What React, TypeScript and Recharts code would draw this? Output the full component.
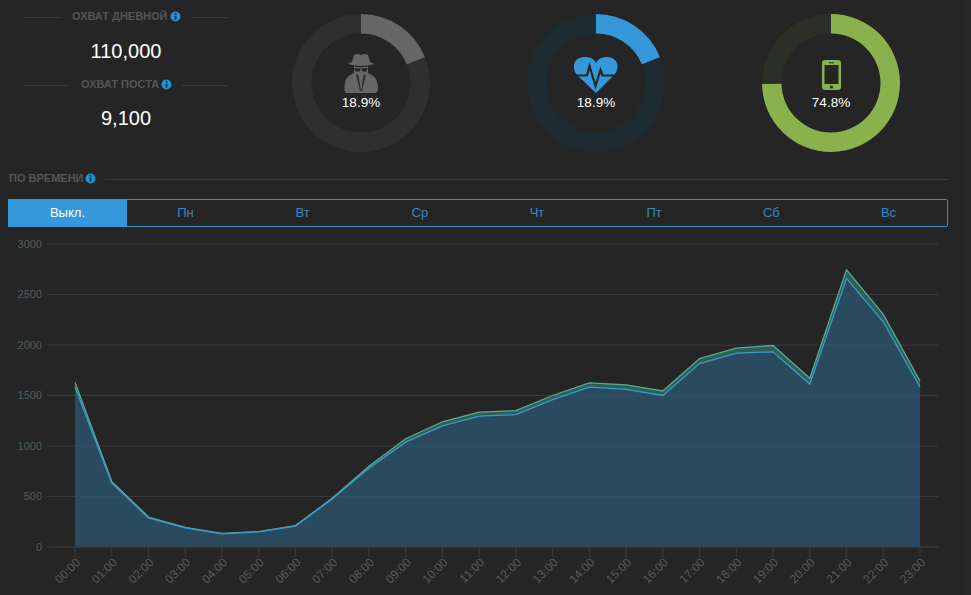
import { AreaChart, Area, XAxis, YAxis, CartesianGrid, PieChart, Pie, Cell } from 'recharts'

const hours = ['00:00', '01:00', '02:00', '03:00', '04:00', '05:00', '06:00', '07:00', '08:00', '09:00', '10:00', '11:00', '12:00', '13:00', '14:00', '15:00', '16:00', '17:00', '18:00', '19:00', '20:00', '21:00', '22:00', '23:00']
const upperValues = [1630, 650, 297, 195, 135, 153, 212, 482, 800, 1072, 1240, 1335, 1351, 1500, 1625, 1605, 1545, 1866, 1970, 1995, 1670, 2744, 2303, 1644]
const lowerValues = [1585, 632, 288, 190, 130, 149, 207, 475, 780, 1038, 1200, 1295, 1311, 1460, 1582, 1560, 1500, 1816, 1919, 1932, 1613, 2659, 2230, 1584]
const yTicks = [0, 500, 1000, 1500, 2000, 2500, 3000]
const tabs = ['Пн', 'Вт', 'Ср', 'Чт', 'Пт', 'Сб', 'Вс']
const donutShares = [18.9, 18.9, 74.8]
const donutLabels = ['18.9%', '18.9%', '74.8%']
const donutColors = [
  ['#666666', '#2f2f2f'],
  ['#3498db', '#1f2b32'],
  ['#89b24d', '#2c2f25'],
]

const BG = '#252525'
const LINE = '#3a3a3a'
const FONT = '"Liberation Sans", Arial, sans-serif'

const chartData = hours.map((hour, i) => ({ hour, upper: upperValues[i], lower: lowerValues[i] }))

function Info({ x, y }: { x: number; y: number }) {
  return (
    <svg width="11" height="11" viewBox="0 0 11 11" style={{ position: 'absolute', left: x - 5.5, top: y - 5.5 }}>
      <circle cx="5.5" cy="5.5" r="5" fill="#1c94d8" />
      <rect x="4.6" y="2" width="1.8" height="1.6" fill="#1d2a33" />
      <rect x="4.6" y="4.6" width="1.8" height="4" fill="#1d2a33" />
    </svg>
  )
}

function Rule({ x, y, w }: { x: number; y: number; w: number }) {
  return <div style={{ position: 'absolute', left: x, top: y, width: w, height: 1, background: LINE }} />
}

function Heading({ text, x, y, w }: { text: string; x: number; y: number; w: number }) {
  return (
    <div style={{ position: 'absolute', left: x, top: y - 8, width: w, height: 16, lineHeight: '16px', fontSize: 11, fontWeight: 'bold', color: '#555', whiteSpace: 'nowrap' }}>
      {text}
    </div>
  )
}

function BigNumber({ text, y }: { text: string; y: number }) {
  return (
    <div style={{ position: 'absolute', left: 26, top: y - 13, width: 200, height: 26, lineHeight: '26px', textAlign: 'center', fontSize: 20, color: '#fff' }}>
      {text}
    </div>
  )
}

function Donut({ cx, index }: { cx: number; index: number }) {
  const share = donutShares[index]
  const data = [{ value: share }, { value: 100 - share }]
  return (
    <>
      <div style={{ position: 'absolute', left: cx - 75, top: 8 }}>
        <PieChart width={150} height={150} margin={{ top: 0, right: 0, bottom: 0, left: 0 }}>
          <Pie
            data={data}
            dataKey="value"
            cx={75}
            cy={75}
            innerRadius={49.5}
            outerRadius={69}
            startAngle={90}
            endAngle={-270}
            stroke="none"
            isAnimationActive={false}
          >
            {data.map((_, i) => (
              <Cell key={`cell-${i}`} fill={donutColors[index][i]} />
            ))}
          </Pie>
        </PieChart>
      </div>
      <div style={{ position: 'absolute', left: cx - 40, top: 95, width: 80, height: 16, lineHeight: '16px', textAlign: 'center', fontSize: 13.5, color: '#fff' }}>
        {donutLabels[index]}
      </div>
    </>
  )
}

function Icons() {
  return (
    <svg width="971" height="110" style={{ position: 'absolute', left: 0, top: 0, pointerEvents: 'none' }}>
      {/* шпион */}
      <path d="M354 55 Q357 53 361 55 Q365 53 368 55 L370 62 L374.500 64 Q361 68 347.500 64 L352 62 Z" fill="#666" />
      <path d="M354 66.500 Q361 68 368 66.500 L368 73 L354 73 Z" fill="#666" />
      <path d="M354.500 68 L360.500 68.500 L360 71 Q356 72.500 355 70.500 Z M367.500 68 L361.500 68.500 L362 71 Q366 72.500 367 70.500 Z" fill={BG} />
      <path d="M354 73 L368 73 Q377 76 378 86 Q378.500 91 376 93 L346 93 Q344 91 344.500 86 Q345 76 354 73 Z" fill="#666" />
      <path d="M356.500 75 L358 75 L360.500 91 Z M365.500 75 L364 75 L361.500 91 Z" fill={BG} stroke={BG} strokeWidth="0.600" />
      {/* сердце */}
      <path d="M596 93 L578 76 Q573 71 574 65 C575 59 580 57 585 57 C590 57 594 59 596 63 C598 59 602 57 607 57 C612 57 617 60 617.500 65 C618 71 615 74 613 76 Z" fill="#3498db" />
      <path d="M576 75.500 L587 75.500 L589.500 66 L595.500 86 L600.500 70 L602.500 75.500 L615 75.500" fill="none" stroke={BG} strokeWidth="2.200" />
      {/* телефон */}
      <rect x="822" y="60" width="19" height="30" rx="3" fill="#89b24d" />
      <rect x="824.500" y="65" width="14" height="19" fill={BG} />
      <rect x="829" y="62.300" width="5" height="1" fill={BG} />
      <circle cx="831.500" cy="87" r="1.600" fill={BG} />
    </svg>
  )
}

export default function App() {
  return (
    <div style={{ position: 'fixed', left: 0, top: 0, width: 971, height: 595, background: BG, overflow: 'hidden', fontFamily: FONT }}>
      <div style={{ position: 'absolute', left: 964, top: 0, width: 7, height: 595, background: '#282828' }} />

      <Rule x={23} y={17} w={38} />
      <Heading text="ОХВАТ ДНЕВНОЙ" x={72} y={16} w={100} />
      <Info x={175} y={16} />
      <Rule x={192} y={17} w={36} />
      <BigNumber text="110,000" y={51} />

      <Rule x={23} y={85} w={46} />
      <Heading text="ОХВАТ ПОСТА" x={81} y={84} w={90} />
      <Info x={166} y={84} />
      <Rule x={182} y={85} w={46} />
      <BigNumber text="9,100" y={118} />

      <Donut cx={361} index={0} />
      <Donut cx={596} index={1} />
      <Donut cx={831} index={2} />
      <Icons />

      <Heading text="ПО ВРЕМЕНИ" x={9} y={178} w={80} />
      <Info x={90} y={178} />
      <Rule x={105} y={179} w={843} />

      <div style={{ position: 'absolute', left: 8, top: 199, width: 938, height: 26, border: '1px solid #3c8dc8', borderRadius: 2, display: 'flex', fontSize: 13, lineHeight: '26px', textAlign: 'center', color: '#3a85c4' }}>
        <div style={{ width: 119, marginLeft: -1, marginTop: -1, marginBottom: -1, lineHeight: '28px', background: '#3498db', color: '#fff' }}>Выкл.</div>
        {tabs.map((t) => (
          <div key={t} style={{ width: 117.200 }}>{t}</div>
        ))}
      </div>

      <div style={{ position: 'absolute', left: 0, top: 230 }}>
        <AreaChart width={964} height={365} data={chartData} margin={{ top: 14, right: 26, bottom: 0, left: 0 }}>
          <CartesianGrid vertical={false} stroke={LINE} />
          <XAxis
            dataKey="hour"
            padding={{ left: 18, right: 18 }}
            interval={0}
            angle={-45}
            textAnchor="end"
            height={48}
            tickSize={10}
            tickMargin={0}
            stroke={LINE}
            tick={{ fill: '#5a5a5a', fontSize: 12, dx: 0 }}
          />
          <YAxis
            width={57}
            domain={[0, 3000]}
            ticks={yTicks}
            axisLine={false}
            tickSize={10}
            tickMargin={5}
            tickLine={{ stroke: LINE }}
            tick={{ fill: '#5a5a5a', fontSize: 11 }}
          />
          <Area type="linear" dataKey="upper" stroke="#5aa898" strokeWidth={1.300} fill="#36b69d" fillOpacity={0.4} isAnimationActive={false} dot={false} activeDot={false} />
          <Area type="linear" dataKey="lower" stroke="#3a9bc8" strokeWidth={1.300} fill="#293e66" fillOpacity={0.6} isAnimationActive={false} dot={false} activeDot={false} />
        </AreaChart>
      </div>
    </div>
  )
}
